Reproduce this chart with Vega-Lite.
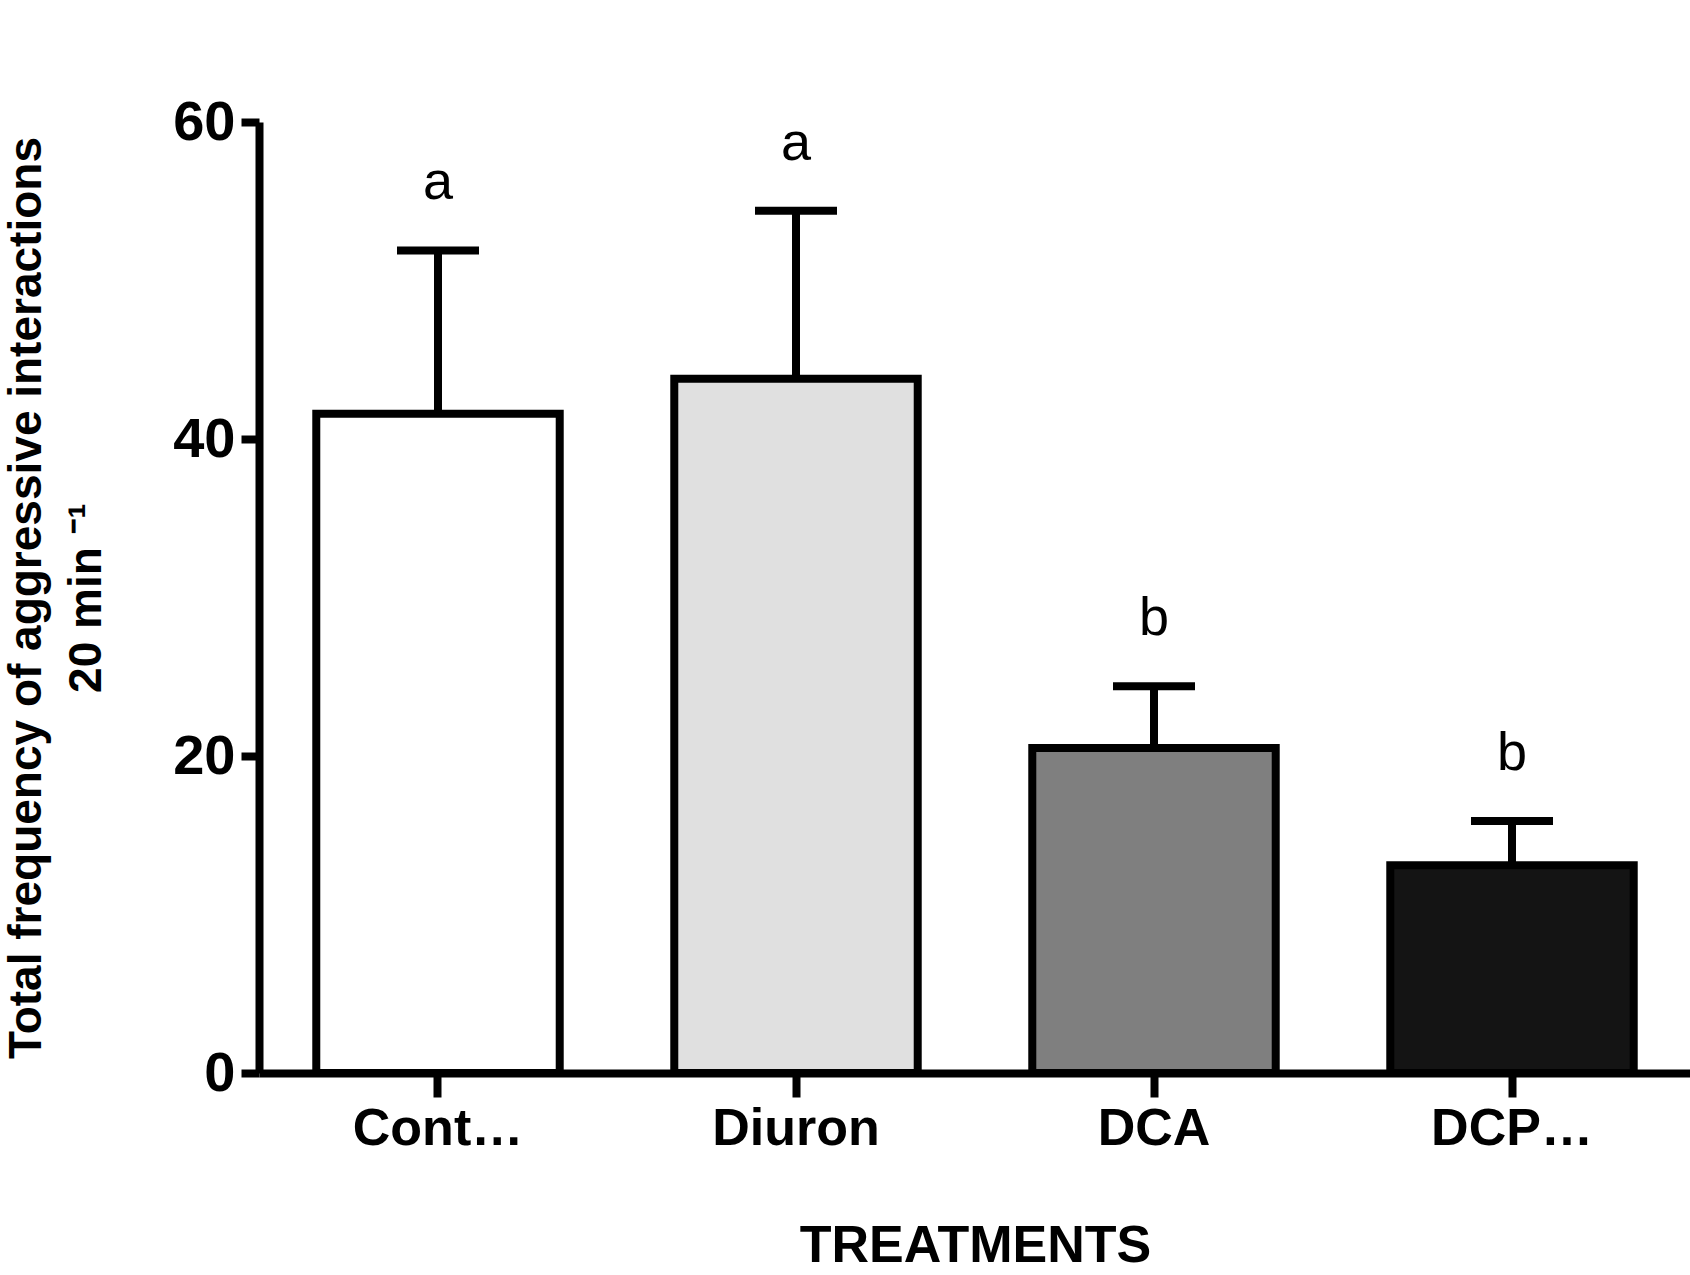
{
"$schema":"https://vega.github.io/schema/vega-lite/v6.json",
"width":1432,"height":951,
"autosize":{"type":"none"},
"padding":{"left":259,"top":122,"right":0,"bottom":202},
"background":"white",
"config":{"view":{"stroke":null},"font":"Liberation Sans"},
"data":{"values":[
{"t":"Control","m":41.6,"e":51.9,"l":"a","c":"#ffffff"},
{"t":"Diuron","m":43.8,"e":54.4,"l":"a","c":"#e0e0e0"},
{"t":"DCA","m":20.5,"e":24.4,"l":"b","c":"#7f7f7f"},
{"t":"DCPMU","m":13.1,"e":15.9,"l":"b","c":"#141414"}]},
"encoding":{"x":{"field":"t","type":"nominal","sort":null,
  "scale":{"paddingInner":0.32,"paddingOuter":0.16},
  "axis":{"title":"TREATMENTS","labelAngle":0,"labelFont":"Liberation Sans","labelFontSize":52,"labelFontWeight":"bold","labelColor":"black","labelPadding":6,
  "titleFontSize":52,"titleFontWeight":"bold","titleColor":"black","titlePadding":66,
  "domainColor":"black","domainWidth":8,"tickColor":"black","tickWidth":8,"tickSize":24}}},
"layer":[
{"mark":{"type":"rule","strokeWidth":8,"color":"black"},"encoding":{"y":{"field":"m","type":"quantitative"},"y2":{"field":"e"}}},
{"mark":{"type":"tick","thickness":8,"size":82,"color":"black","opacity":1},"encoding":{"y":{"field":"e","type":"quantitative"}}},
{"mark":{"type":"bar","stroke":"black","strokeWidth":8},"encoding":{
  "y":{"field":"m","type":"quantitative","scale":{"domain":[0,60]},
   "axis":{"values":[0,20,40,60],"grid":false,"title":["Total frequency of aggressive interactions","20 min ⁻¹"],
   "labelFontSize":56,"labelFontWeight":"bold","labelColor":"black","labelPadding":6,
   "titleFontSize":46,"titleFontWeight":"bold","titleColor":"black","titleLineHeight":60,"titlePadding":62,
   "domainColor":"black","domainWidth":8,"tickColor":"black","tickWidth":8,"tickSize":18}},
  "fill":{"field":"c","type":"nominal","scale":null}}},
{"mark":{"type":"text","fontSize":54,"baseline":"bottom","dy":-40,"color":"black"},"encoding":{"y":{"field":"e","type":"quantitative"},"text":{"field":"l"}}}
]}
